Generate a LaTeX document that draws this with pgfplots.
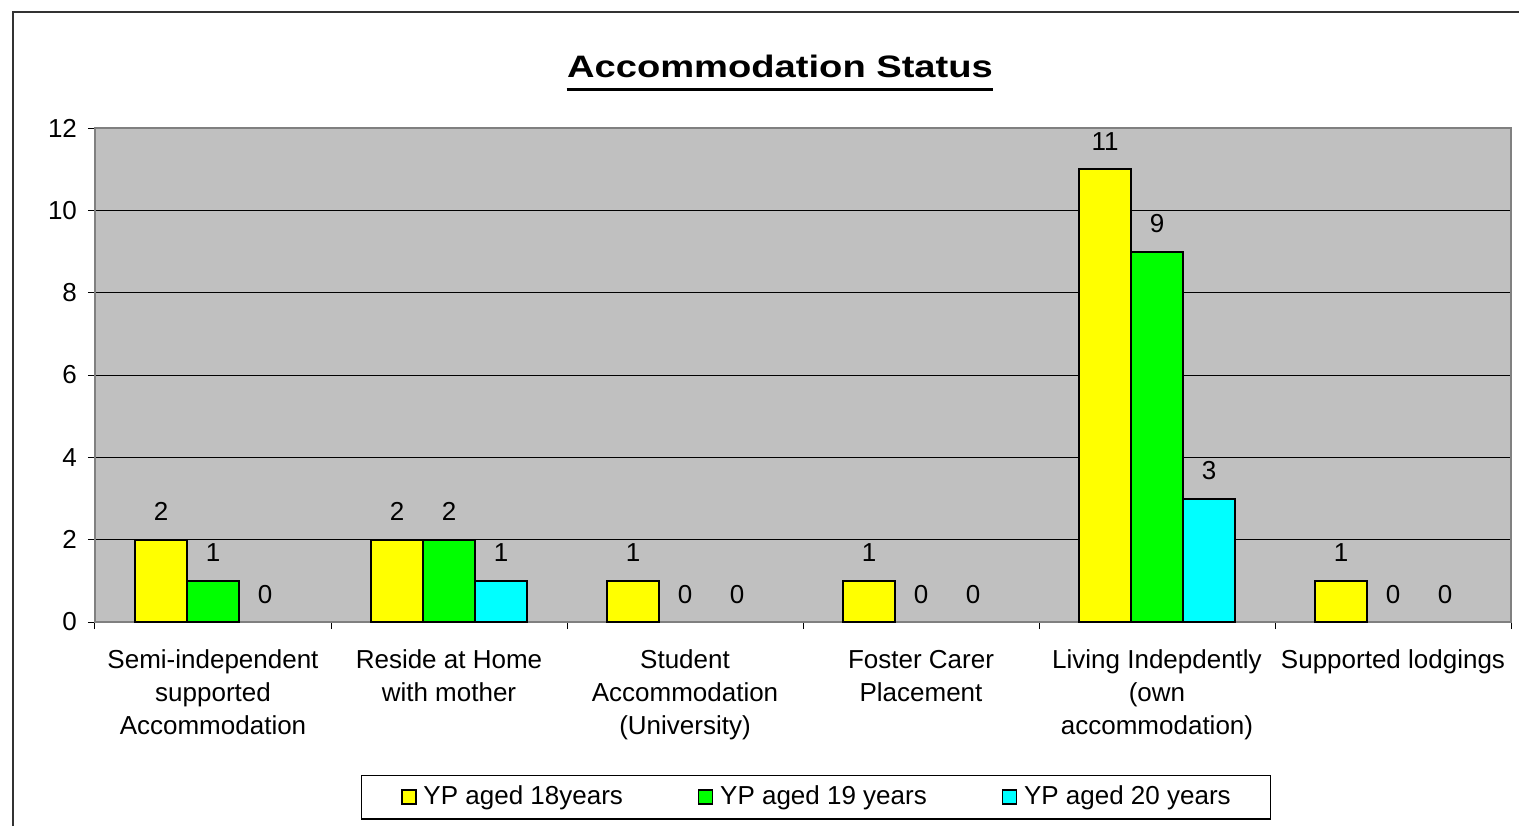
\documentclass[border=0pt]{standalone}
\usepackage{fontspec}
\setmainfont{Liberation Sans}
\usepackage{graphicx}
\usepackage{pgfplots}
\pgfplotsset{compat=1.18}
\definecolor{chartgray}{RGB}{192,192,192}
\definecolor{bordergray}{RGB}{128,128,128}
\definecolor{cyellow}{RGB}{255,255,0}
\definecolor{cgreen}{RGB}{0,255,0}
\definecolor{ccyan}{RGB}{0,255,255}
\newcommand\fs{\fontsize{13}{16.5}\selectfont}
\begin{document}
\begin{tikzpicture}
\useasboundingbox (-47.5pt,-102pt) rectangle (712pt,311pt);
% outer chart frame (top and left edges)
\draw[line width=1pt, black!80] (-41pt,-102pt) -- (-41pt,305pt) -- (712pt,305pt);
\begin{axis}[
  at={(0,0)}, anchor=south west,
  scale only axis, width=708pt, height=247pt,
  xmin=-0.5, xmax=5.5, ymin=0, ymax=12,
  ybar=0pt, bar width=26pt,
  axis background/.style={fill=chartgray},
  axis line style={draw=bordergray, line width=1pt},
  xtick={-0.5,0.5,1.5,2.5,3.5,4.5,5.5},
  x tick label as interval,
  xticklabels={{Semi-independent\\supported\\Accommodation},
               {Reside at Home\\with mother},
               {Student\\Accommodation\\(University)},
               {Foster Carer\\Placement},
               {Living Indepdently\\(own\\accommodation)},
               {Supported lodgings}},
  xticklabel style={font=\fs, align=center, yshift=-7pt},
  ytick={0,2,...,12},
  yticklabel style={font=\fs, xshift=-2pt},
  /pgf/number format/assume math mode=true,
  tick align=outside, tick pos=left,
  major tick length=3.5pt,
  tick style={black, line width=0.5pt},
  ymajorgrids, grid style={black, line width=0.5pt},
  nodes near coords,
  every node near coord/.append style={font=\fs, anchor=south, inner sep=0pt, yshift=9pt, black},
  legend columns=3,
  legend style={at={(0.5092,-0.3543)}, anchor=center, draw=black, line width=0.6pt, fill=white,
    font=\fs, inner xsep=20pt, inner ysep=5.5pt,
    nodes={inner sep=0pt},
    /tikz/every odd column/.append style={column sep=3.5pt},
    /tikz/every even column/.append style={column sep=37.5pt}},
  mybar/.style={draw=black, line width=1pt,
    legend image code/.code={\draw[##1, line width=0.6pt] (0pt,-3.5pt) rectangle (7pt,3.5pt);}},
  zerobar/.style={draw=none, fill=none, forget plot},
]
% YP aged 18 years
\addplot[mybar, fill=cyellow, bar shift=-26pt] coordinates {(0,2) (1,2) (2,1) (3,1) (4,11) (5,1)};
% YP aged 19 years (non-zero values drawn as bars, zero values labelled only)
\addplot[mybar, fill=cgreen, bar shift=0pt] coordinates {(0,1) (1,2) (4,9)};
\addplot[zerobar, bar shift=0pt] coordinates {(2,0) (3,0) (5,0)};
% YP aged 20 years
\addplot[mybar, fill=ccyan, bar shift=26pt] coordinates {(1,1) (4,3)};
\addplot[zerobar, bar shift=26pt] coordinates {(0,0) (2,0) (3,0) (5,0)};
\legend{YP aged 18years, YP aged 19 years, YP aged 20 years}
\end{axis}
\node[font=\fontsize{15.5}{18}\selectfont\bfseries, inner sep=0pt, anchor=base] (T) at (342.5pt,272pt) {\scalebox{1.23}[1]{Accommodation Status}};
\draw[line width=1.5pt] ([yshift=-6pt]T.base west) -- ([yshift=-6pt]T.base east);
\end{tikzpicture}
\end{document}
